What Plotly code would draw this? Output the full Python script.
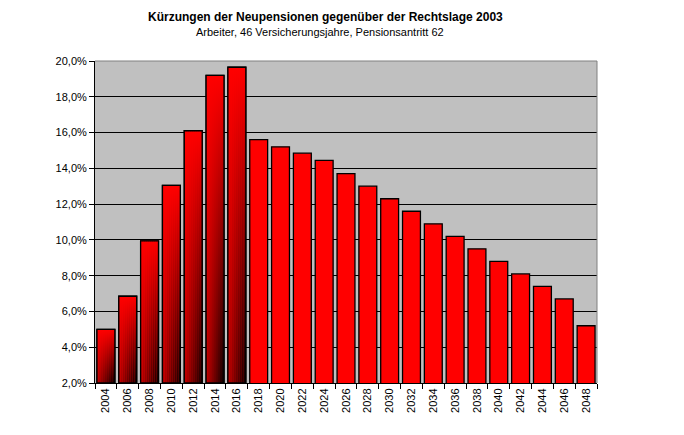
import plotly.graph_objects as go

years = [str(y) for y in range(2004, 2050, 2)]
values = [5.0, 6.85, 9.95, 13.05, 16.1, 19.2, 19.65, 15.6, 15.2, 14.85, 14.45,
          13.7, 13.0, 12.3, 11.6, 10.9, 10.2, 9.5, 8.8, 8.1, 7.4, 6.7, 5.2]
gradient_count = 7  # first bars drawn with a dark gradient
y_range = [2, 20]
y_ticks = list(range(2, 21, 2))
y_tick_labels = ["2,0%", "4,0%", "6,0%", "8,0%", "10,0%", "12,0%", "14,0%",
                 "16,0%", "18,0%", "20,0%"]
title = "<b>Kürzungen der Neupensionen gegenüber der Rechtslage 2003</b>"
subtitle = "Arbeiter, 46 Versicherungsjahre, Pensionsantritt 62"

FONT = "Arial, Liberation Sans, sans-serif"
bar_w = 0.82
idx = list(range(len(years)))

# page body has an 8px margin; compensate
OFF = 8
W, H = 684 - 2 * OFF, 435 - 2 * OFF
L, T = 95 - OFF, 61 - OFF
PW, PH = 502, 322
R = W - L - PW
B = H - T - PH

fig = go.Figure()
fig.add_trace(go.Bar(
    x=idx, y=values, width=bar_w,
    marker=dict(color="#FF0000", line=dict(color="black", width=1.3)),
    showlegend=False, hoverinfo="skip"))

# diagonal-looking gradient: vertical strips, each darker at the bottom towards the right
N_STRIPS = 9
left_bottom, right_bottom = 0xB8, 0x14
for i in range(gradient_count):
    v = values[i]
    x0 = i - bar_w / 2
    sw = bar_w / N_STRIPS
    for k in range(N_STRIPS):
        a = x0 + k * sw
        b = a + sw * 1.02
        t = k / (N_STRIPS - 1)
        rb = int(round(left_bottom + (right_bottom - left_bottom) * t))
        bottom = f"rgb({rb},0,0)"
        fig.add_trace(go.Scatter(
            x=[a, b, b, a, a], y=[y_range[0], y_range[0], v, v, y_range[0]],
            mode="lines", fill="toself",
            fillgradient=dict(type="vertical", start=y_range[0], stop=v,
                              colorscale=[[0, bottom], [1, "#ff0000"]]),
            line=dict(width=0), showlegend=False, hoverinfo="skip"))
    x1 = i + bar_w / 2
    fig.add_trace(go.Scatter(
        x=[x0, x1, x1, x0, x0], y=[y_range[0], y_range[0], v, v, y_range[0]],
        mode="lines", line=dict(color="black", width=1.3),
        showlegend=False, hoverinfo="skip"))


def px_to_paper(xp, yp):
    return (xp - OFF - L) / PW, (H - B - (yp - OFF)) / PH


tx, ty = px_to_paper(325, 17)
sx, sy = px_to_paper(320, 32)

fig.update_layout(
    width=W, height=H,
    margin=dict(l=L, r=R, t=T, b=B),
    paper_bgcolor="white", plot_bgcolor="#C0C0C0",
    font=dict(family=FONT, size=11, color="black"),
    annotations=[
        dict(text=title, x=tx, y=ty, xref="paper", yref="paper", showarrow=False,
             font=dict(size=12, family=FONT), xanchor="center", yanchor="middle"),
        dict(text=subtitle, x=sx, y=sy, xref="paper", yref="paper", showarrow=False,
             font=dict(size=11, family=FONT), xanchor="center", yanchor="middle"),
    ],
)

fig.update_xaxes(
    range=[-0.5, len(years) - 0.5],
    tickmode="array", tickvals=idx, ticktext=years, tickangle=-90,
    ticks="", showgrid=False, zeroline=False,
    showline=True, linecolor="black", linewidth=1,
    tickfont=dict(size=11, family=FONT),
    minor=dict(tickmode="array", tickvals=[i - 0.5 for i in range(len(years) + 1)],
               ticks="outside", ticklen=5, tickcolor="black", tickwidth=1, showgrid=False),
)
fig.update_yaxes(
    range=y_range, tickmode="array", tickvals=y_ticks, ticktext=y_tick_labels,
    ticks="outside", ticklen=5, tickcolor="black",
    showgrid=True, gridcolor="black", gridwidth=1, zeroline=False,
    showline=True, linecolor="black", linewidth=1,
    tickfont=dict(size=11, family=FONT),
)
fig.add_shape(type="line", xref="x domain", yref="y domain", x0=0, x1=1, y0=1, y1=1,
              line=dict(color="#808080", width=1), layer="above")
fig.add_shape(type="line", xref="x domain", yref="y domain", x0=1, x1=1, y0=0, y1=1,
              line=dict(color="#808080", width=1), layer="above")

fig.write_html("out.html")
